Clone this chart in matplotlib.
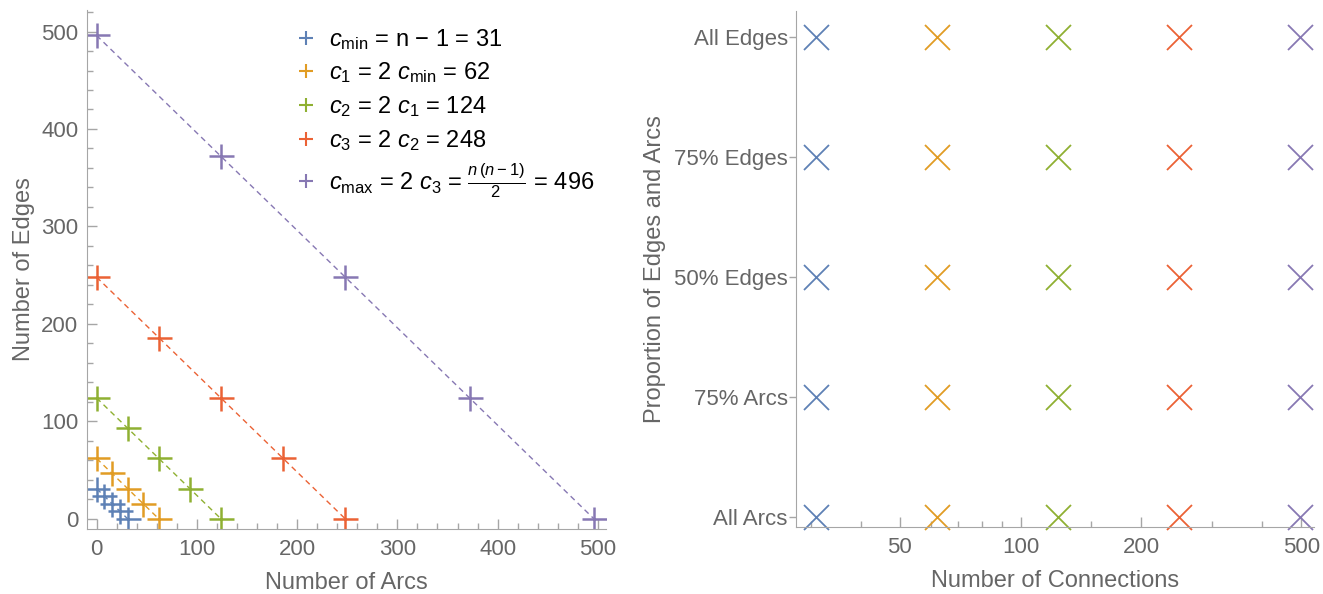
import matplotlib.pyplot as plt
from matplotlib.lines import Line2D
from matplotlib.ticker import MultipleLocator, FixedLocator, NullFormatter

plt.rcParams['font.family'] = ['Liberation Sans', 'DejaVu Sans']
plt.rcParams['mathtext.fontset'] = 'custom'
plt.rcParams['mathtext.rm'] = 'Liberation Sans'
plt.rcParams['mathtext.it'] = 'Liberation Sans:italic'

# number of connections per series
connections = [31, 62, 124, 248, 496]
colors = ['#5e81b5', '#e19c24', '#8fb032', '#eb6235', '#8778b3']
legend_labels = [
    r'$c_{\mathrm{min}}$ = n − 1 = 31',
    r'$c_1$ = 2 $c_{\mathrm{min}}$ = 62',
    r'$c_2$ = 2 $c_1$ = 124',
    r'$c_3$ = 2 $c_2$ = 248',
    r'$c_{\mathrm{max}}$ = 2 $c_3$ = $\frac{n\,(n-1)}{2}$ = 496',
]

# arcs / edges split for each series (all edges -> all arcs)
arcs_31 = [0, 7.75, 15.5, 23.25, 31]
edges_31 = [31, 23.25, 15.5, 7.75, 0]
arcs_62 = [0, 15.5, 31, 46.5, 62]
edges_62 = [62, 46.5, 31, 15.5, 0]
arcs_124 = [0, 31, 62, 93, 124]
edges_124 = [124, 93, 62, 31, 0]
arcs_248 = [0, 62, 124, 186, 248]
edges_248 = [248, 186, 124, 62, 0]
arcs_496 = [0, 124, 248, 372, 496]
edges_496 = [496, 372, 248, 124, 0]

arcs = [arcs_31, arcs_62, arcs_124, arcs_248, arcs_496]
edges = [edges_31, edges_62, edges_124, edges_248, edges_496]

# right panel categories, bottom to top
proportion_labels = ['All Arcs', '75% Arcs', '50% Edges', '75% Edges', 'All Edges']
proportion_pos = [0, 1, 2, 3, 4]

text_gray = '#666666'
axis_gray = '#a6a6a6'
tick_size = 16
label_size = 17

fig = plt.figure(figsize=(13.23, 5.94), dpi=100)
ax1 = fig.add_axes([0.0654, 0.1094, 0.3926, 0.8736])
ax2 = fig.add_axes([0.6017, 0.1128, 0.3913, 0.8682])

# left: arcs vs edges
for a, e, c in zip(arcs, edges, colors):
    ax1.plot(a, e, ls=(0, (4, 3)), lw=1.0, color=c)
    ax1.plot(a, e, ls='none', marker='+', ms=18, mew=1.8, color=c)

ax1.set_xlim(-10, 508)
ax1.set_ylim(-10.5, 522)
ax1.xaxis.set_major_locator(MultipleLocator(100))
ax1.xaxis.set_minor_locator(MultipleLocator(20))
ax1.yaxis.set_major_locator(MultipleLocator(100))
ax1.yaxis.set_minor_locator(MultipleLocator(20))
ax1.tick_params(which='both', direction='in', color=axis_gray, labelcolor=text_gray,
                labelsize=tick_size, width=1)
ax1.tick_params(which='major', length=7)
ax1.tick_params(which='minor', length=4)
ax1.tick_params(axis='x', pad=7)
ax1.tick_params(axis='y', pad=6)
ax1.set_xlabel('Number of Arcs', color=text_gray, fontsize=label_size, labelpad=9)
ax1.set_ylabel('Number of Edges', color=text_gray, fontsize=label_size, labelpad=4)

handles = [Line2D([], [], ls='none', marker='+', ms=10, mew=1.5, color=c) for c in colors]
ax1.legend(handles, legend_labels, loc='upper left', bbox_to_anchor=(0.378, 0.995),
           frameon=False, fontsize=label_size, handlelength=0.8, handletextpad=0.55,
           labelspacing=0.37, borderaxespad=0.2)

# right: proportion vs connections (log x)
for y in proportion_pos:
    for x, c in zip(connections, colors):
        ax2.plot(x, y, ls='none', marker='x', ms=18, mew=1.3, color=c, clip_on=False)

ax2.set_xscale('log')
ax2.set_xlim(27.6, 537)
ax2.set_ylim(-0.083, 4.21)
ax2.xaxis.set_major_locator(FixedLocator([50, 100, 200, 500]))
ax2.xaxis.set_major_formatter(plt.FuncFormatter(lambda v, p: f'{v:g}'))
ax2.xaxis.set_minor_locator(FixedLocator([30, 40, 60, 70, 80, 90, 150, 300, 400]))
ax2.xaxis.set_minor_formatter(NullFormatter())
ax2.set_yticks(proportion_pos)
ax2.set_yticklabels(proportion_labels)
ax2.tick_params(axis='x', which='both', direction='in', color=axis_gray,
                labelcolor=text_gray, labelsize=tick_size, width=1, pad=7)
ax2.tick_params(axis='x', which='major', length=7)
ax2.tick_params(axis='x', which='minor', length=4)
ax2.tick_params(axis='y', direction='out', length=5, color=axis_gray,
                labelcolor=text_gray, labelsize=tick_size, width=1, pad=1)
ax2.set_xlabel('Number of Connections', color=text_gray, fontsize=label_size, labelpad=9)
ax2.set_ylabel('Proportion of Edges and Arcs', color=text_gray, fontsize=label_size,
               labelpad=6)

for ax in (ax1, ax2):
    ax.spines['top'].set_visible(False)
    ax.spines['right'].set_visible(False)
    ax.spines['left'].set_color(axis_gray)
    ax.spines['bottom'].set_color(axis_gray)

fig.savefig('out.png', dpi=100)
